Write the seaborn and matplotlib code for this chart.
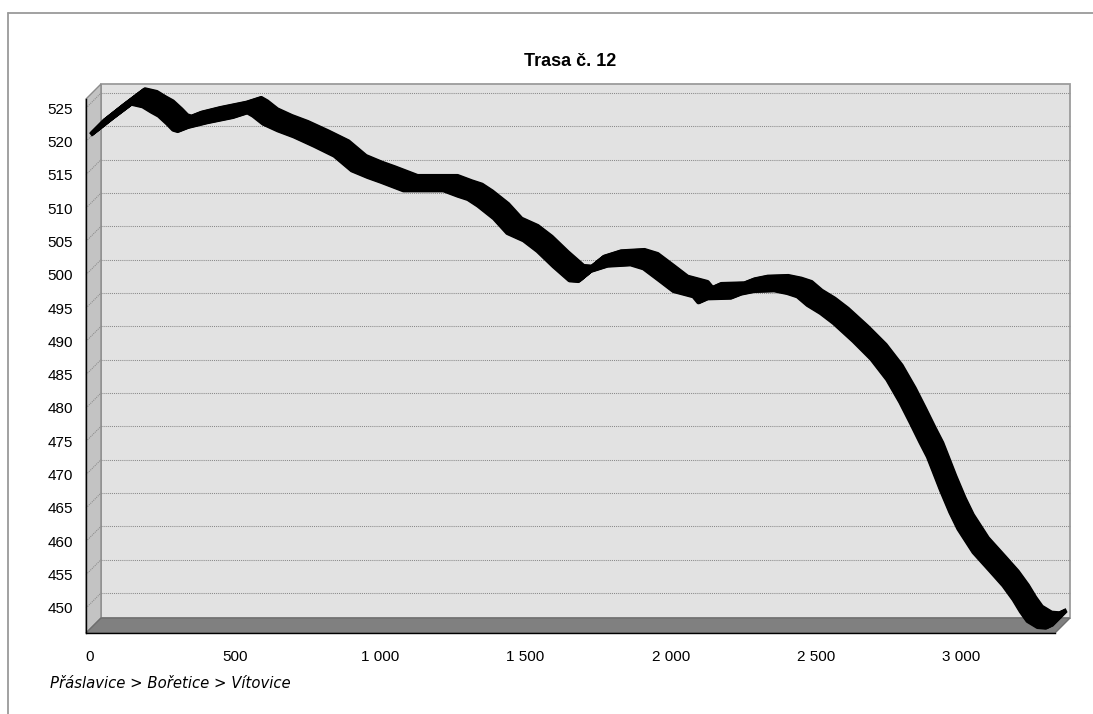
import numpy as np
import pandas as pd
import matplotlib
matplotlib.use("Agg")
import matplotlib.pyplot as plt
import seaborn as sns
from matplotlib.transforms import ScaledTranslation, IdentityTransform
from matplotlib.patches import Polygon, Rectangle
from matplotlib.lines import Line2D
from matplotlib.ticker import FuncFormatter

# Elevation profile: distance along the route [m] and altitude [m]
distance = [0, 70, 140, 180, 210, 235, 265, 285, 300, 335, 400, 490, 540, 560,
            595, 645, 700, 770, 840, 900, 955, 1000, 1078, 1216, 1265, 1300,
            1335, 1390, 1436, 1492, 1540, 1595, 1650, 1680, 1722, 1780, 1860,
            1905, 1963, 2008, 2077, 2094, 2125, 2205, 2240, 2285, 2355, 2400,
            2435, 2470, 2515, 2560, 2628, 2690, 2745, 2790, 2825, 2859, 2885,
            2904, 2930, 2962, 2990, 3042, 3100, 3145, 3180, 3205, 3228, 3262,
            3290, 3314]
elevation = [520.9, 523.3, 525.6, 525.2, 524.4, 523.8, 522.6, 521.7, 521.5,
             522.1, 522.8, 523.6, 524.3, 523.8, 522.6, 521.6, 520.7, 519.3,
             517.8, 515.6, 514.6, 513.9, 512.6, 512.6, 511.8, 511.3, 510.3,
             508.4, 506.2, 505.1, 503.5, 501.2, 499.1, 499.0, 500.5, 501.3,
             501.5, 500.9, 499.0, 497.5, 496.7, 495.8, 496.4, 496.5, 497.1,
             497.5, 497.6, 497.2, 496.7, 495.4, 494.2, 492.7, 490.0, 487.3,
             484.2, 480.8, 477.8, 474.8, 472.6, 470.5, 467.6, 464.3, 461.8,
             458.3, 455.5, 453.3, 451.2, 449.4, 448.0, 447.1, 447.0, 447.5]

y_ticks = list(range(450, 530, 5))
x_ticks = [0, 500, 1000, 1500, 2000, 2500, 3000]

title = "Trasa č. 12"
route = "Přáslavice > Bořetice > Vítovice"

profile = pd.DataFrame({"distance": distance, "elevation": elevation})

sns.set_style("white")
plt.rcParams["font.family"] = ["Liberation Sans", "DejaVu Sans"]

W, H, DPI = 1093, 714, 100
fig = plt.figure(figsize=(W / DPI, H / DPI), dpi=DPI)
fig.patch.set_facecolor("white")

# front plane of the pseudo-3D box (pixels) and depth of the box
FL, FR, FT, FB = 86, 1055, 99, 633
DEPTH = 15

ax = fig.add_axes([FL / W, 1 - FB / H, (FR - FL) / W, (FB - FT) / H])
ax.set_xlim(-13.8, 3323.8)
ax.set_ylim(446.25, 526.35)
ax.patch.set_visible(False)


def shifted(base, d):
    return base + ScaledTranslation(d / DPI, d / DPI, fig.dpi_scale_trans)


ident = IdentityTransform()

# back wall
ax.add_patch(Rectangle((0, 0), 1, 1, transform=shifted(ax.transAxes, DEPTH),
                       facecolor="#e2e2e2", edgecolor="#9c9c9c", lw=1.3,
                       clip_on=False, zorder=0))

p_bl = ax.transAxes.transform((0, 0))
p_tl = ax.transAxes.transform((0, 1))
p_br = ax.transAxes.transform((1, 0))
dv = np.array([DEPTH, DEPTH])

# left side wall
ax.add_patch(Polygon([p_tl, p_tl + dv, p_bl + dv, p_bl], closed=True,
                     transform=ident, facecolor="#c3c3c3", edgecolor="#8c8c8c",
                     lw=1.0, clip_on=False, zorder=1))

# floor
ax.add_patch(Polygon([p_bl, p_br, p_br + dv, p_bl + dv], closed=True,
                     transform=ident, facecolor="#808080", edgecolor="#6e6e6e",
                     lw=1.0, clip_on=False, zorder=2))

# dotted gridlines on the back wall and across the side wall
x0, x1 = ax.get_xlim()
for v in y_ticks:
    ax.plot([x0, x1], [v, v], transform=shifted(ax.transData, DEPTH),
            color="#8a8a8a", lw=0.75, ls=(0, (1, 1)), clip_on=False, zorder=1.5)
    p = ax.transData.transform((x0, v))
    ax.add_line(Line2D([p[0], p[0] + DEPTH], [p[1], p[1] + DEPTH],
                       transform=ident, color="#8a8a8a", lw=0.75,
                       ls=(0, (1, 1)), clip_on=False, zorder=1.5))

# elevation ribbon swept through the depth of the box
for k in np.linspace(0.5, DEPTH - 0.5, 29):
    sns.lineplot(data=profile, x="distance", y="elevation", ax=ax,
                 color="black", lw=3.2, sort=False, estimator=None,
                 transform=shifted(ax.transData, k), clip_on=False,
                 solid_joinstyle="round", solid_capstyle="butt", zorder=5)

ax.set_xlabel("")
ax.set_ylabel("")
ax.set_xticks(x_ticks)
ax.set_yticks(y_ticks)
ax.xaxis.set_major_formatter(FuncFormatter(lambda v, _: f"{int(v):,}".replace(",", " ")))
ax.yaxis.set_major_formatter(FuncFormatter(lambda v, _: f"{int(v)}"))
ax.set_xlim(x0, x1)
ax.set_ylim(446.25, 526.35)

for side in ("top", "right"):
    ax.spines[side].set_visible(False)
for side in ("left", "bottom"):
    ax.spines[side].set_color("black")
    ax.spines[side].set_linewidth(1.0)
    ax.spines[side].set_zorder(6)

ax.tick_params(axis="both", direction="out", length=5.5, width=1.0,
               color="black", labelsize=11, labelcolor="black")
ax.tick_params(axis="x", pad=7)
ax.tick_params(axis="y", pad=4)

fig.text(570 / W, 1 - 61 / H, title, ha="center", va="center",
         fontsize=13, fontweight="bold", color="black")
fig.text(50 / W, 1 - 683 / H, route, ha="left", va="center",
         fontsize=10.7, style="italic", color="black", family="DejaVu Sans")

# chart frame
fig.add_artist(Line2D([8 / W, 1], [1 - 13 / H, 1 - 13 / H], color="#9a9a9a", lw=1.3))
fig.add_artist(Line2D([8 / W, 8 / W], [1 - 13 / H, 0], color="#9a9a9a", lw=1.3))

fig.savefig("out.png", dpi=DPI, facecolor="white")
